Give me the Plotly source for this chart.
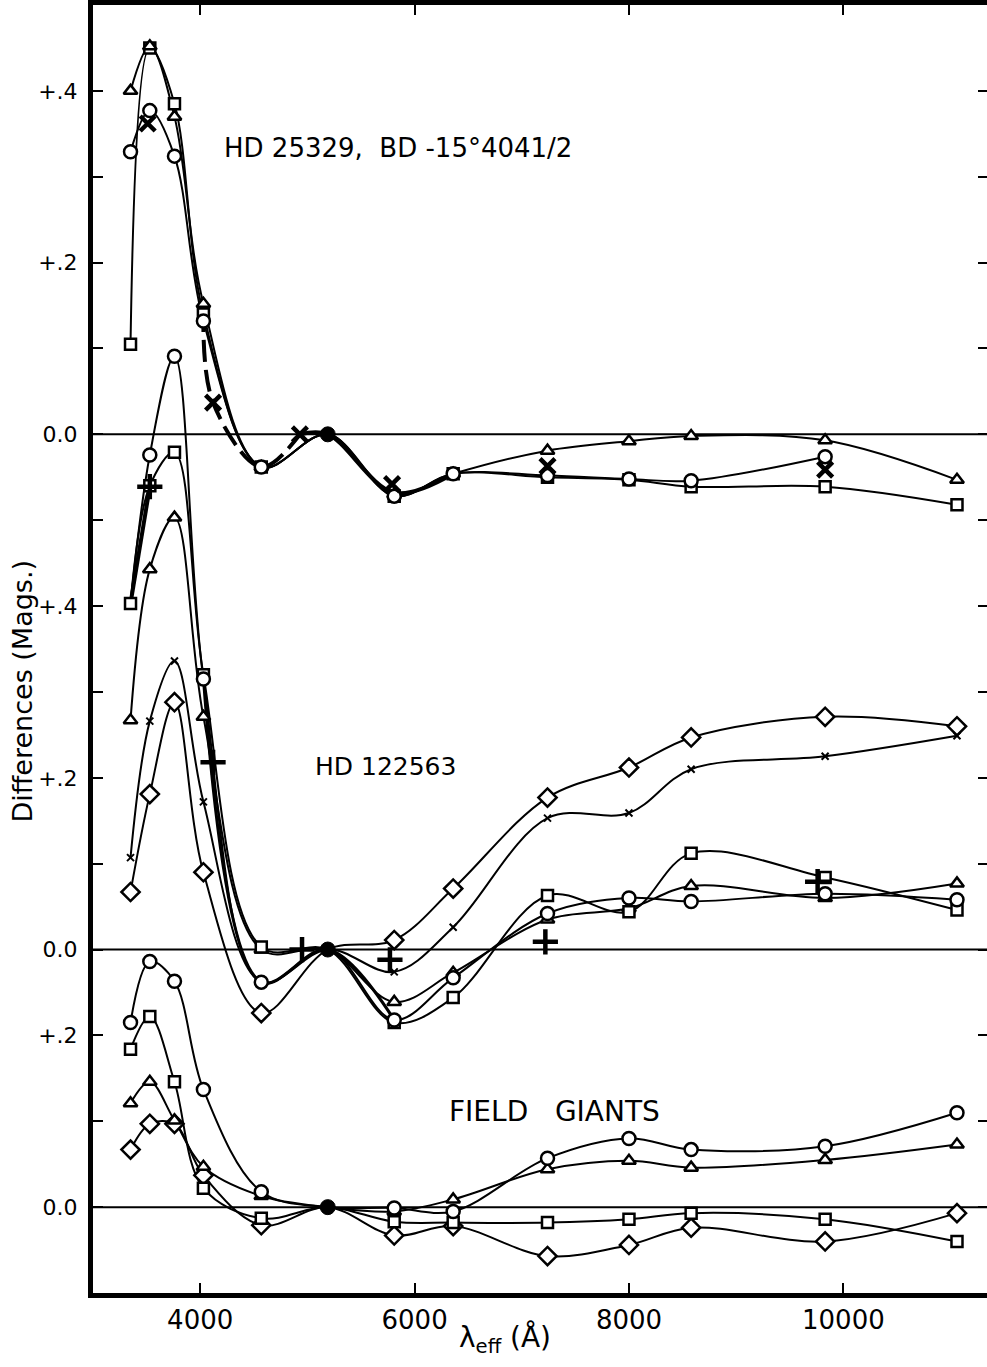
import plotly.graph_objects as go

# ---------------- data ----------------
# effective wavelengths of the 13-colour filters (Angstrom)
W = [3350, 3530, 3760, 4030, 4570, 5190, 5810, 6360, 7240, 8000, 8580, 9830, 11060]

# Top panel: HD 25329, BD -15 4041/2
top_tri = [0.400, 0.452, 0.370, 0.152, -0.038, 0.0, -0.070, -0.046, -0.019, -0.008, -0.002, -0.007, -0.053]
top_sq = [0.105, 0.450, 0.385, 0.140, -0.038, 0.0, -0.072, -0.046, -0.050, -0.053, -0.061, -0.061, -0.082]
top_circ = [0.329, 0.377, 0.324, 0.132, -0.038, 0.0, -0.072, -0.046, -0.048, -0.052, -0.054, -0.026]
top_X_w = [3510, 4120, 4930, 5790, 7240, 9830]
top_X = [0.362, 0.037, 0.0, -0.058, -0.037, -0.041]
heavy_top_w = [4030, 4120, 4570, 4930, 5190, 5810, 6360]
heavy_top = [0.145, 0.037, -0.038, 0.0, 0.0, -0.068, -0.046]

# Middle panel: HD 122563
mid_circ = [0.403, 0.576, 0.691, 0.315, -0.038, 0.0, -0.082, -0.033, 0.042, 0.060, 0.056, 0.065, 0.058]
mid_sq = [0.403, 0.540, 0.579, 0.320, 0.003, 0.0, -0.085, -0.056, 0.063, 0.044, 0.112, 0.084, 0.046]
mid_tri = [0.267, 0.443, 0.503, 0.271, 0.000, 0.0, -0.061, -0.027, 0.035, 0.048, 0.074, 0.060, 0.077]
mid_x = [0.107, 0.266, 0.336, 0.172, -0.038, 0.0, -0.026, 0.026, 0.153, 0.159, 0.210, 0.225, 0.249]
mid_dia = [0.067, 0.181, 0.288, 0.090, -0.074, 0.0, 0.011, 0.071, 0.177, 0.212, 0.247, 0.271, 0.260]
mid_plus_w = [3530, 4120, 4950, 5770, 7220, 9760]
mid_plus = [0.539, 0.218, 0.0, -0.012, 0.009, 0.079]
heavy_mid_w = [3350, 3530, 3760, 4030, 4570, 5190, 5810]
heavy_mid = [0.403, 0.539, 0.579, 0.318, -0.038, 0.0, -0.082]

# Bottom panel: field giants
bot_circ = [0.215, 0.286, 0.263, 0.137, 0.018, 0.0, -0.001, -0.005, 0.057, 0.080, 0.067, 0.071, 0.110]
bot_tri = [0.121, 0.146, 0.101, 0.047, 0.013, 0.0, -0.005, 0.009, 0.044, 0.054, 0.046, 0.055, 0.073]
bot_sq = [0.184, 0.222, 0.146, 0.022, -0.013, 0.0, -0.017, -0.018, -0.018, -0.014, -0.007, -0.014, -0.040]
bot_dia = [0.067, 0.097, 0.097, 0.037, -0.021, 0.0, -0.033, -0.022, -0.057, -0.044, -0.024, -0.040, -0.007]

ZERO_W = [5190]
ZERO_V = [0.0]

# panel offsets on the common axis
OFF_TOP, OFF_MID, OFF_BOT = 0.9, 0.3, 0.0

# y ticks (labelled) and unlabelled minor ticks
y_tickvals = [0.0, 0.2, 0.3, 0.5, 0.7, 0.9, 1.1, 1.3]
y_ticktext = ["0.0", "+.2", "0.0", "+.2", "+.4", "0.0", "+.2", "+.4"]
y_minorvals = [0.1, 0.4, 0.6, 0.8, 1.0, 1.2]
y_allvals = [0.0, 0.1, 0.2, 0.3, 0.4, 0.5, 0.6, 0.7, 0.8, 0.9, 1.0, 1.1, 1.2, 1.3]
x_tickvals = [4000, 6000, 8000, 10000]

FONT = "DejaVu Sans"
K = "black"
LW = 2.0
MLW = 2.5

line_traces = []
marker_traces = []


def sh(vals, off):
    return [v + off for v in vals]


def series(ws, vals, off, symbol, size=12, mlw=MLW, lw=LW, hide=()):
    ys = sh(vals, off)
    line_traces.append(go.Scatter(
        x=ws, y=ys, mode="lines", hoverinfo="skip",
        line=dict(color=K, width=lw, shape="spline", smoothing=1.0)))
    sizes = [0 if (w in ZERO_W or w in hide) else size for w in ws]
    marker_traces.append(go.Scatter(
        x=ws, y=ys, mode="markers",
        marker=dict(symbol=symbol, size=sizes, color="white", opacity=1,
                    line=dict(color=K, width=mlw))))


def heavy(ws, vals, off, dash="solid", width=4.0):
    line_traces.append(go.Scatter(
        x=ws, y=sh(vals, off), mode="lines", hoverinfo="skip",
        line=dict(color=K, width=width, shape="spline", smoothing=1.0, dash=dash)))


def points(ws, vals, off, symbol, size, mlw):
    marker_traces.append(go.Scatter(
        x=ws, y=sh(vals, off), mode="markers",
        marker=dict(symbol=symbol, size=size, color=K, opacity=1,
                    line=dict(color=K, width=mlw))))


# top panel
series(W, top_sq, OFF_TOP, "square", size=11)
series(W, top_tri, OFF_TOP, "triangle-up", size=12)
series(W[:len(top_circ)], top_circ, OFF_TOP, "circle", size=13)
heavy(heavy_top_w[:4], heavy_top[:4], OFF_TOP, dash="22px,8px")
heavy(heavy_top_w[3:], heavy_top[3:], OFF_TOP)
points(top_X_w, top_X, OFF_TOP, "x-thin", 15, 4.5)

# middle panel
series(W, mid_dia, OFF_MID, "diamond", size=14)
series(W, mid_x, OFF_MID, "x-thin", size=7, mlw=2)
series(W, mid_tri, OFF_MID, "triangle-up", size=12)
series(W, mid_sq, OFF_MID, "square", size=11)
series(W, mid_circ, OFF_MID, "circle", size=13, hide=(3350,))
heavy(heavy_mid_w[:2], heavy_mid[:2], OFF_MID)
heavy(heavy_mid_w[3:], heavy_mid[3:], OFF_MID, width=3.2)
points(mid_plus_w, mid_plus, OFF_MID, "cross-thin", 18, 4.5)

# bottom panel
series(W, bot_dia, OFF_BOT, "diamond", size=14)
series(W, bot_sq, OFF_BOT, "square", size=11)
series(W, bot_tri, OFF_BOT, "triangle-up", size=12)
series(W, bot_circ, OFF_BOT, "circle", size=13)

# common zero points (filled dots)
for off in (OFF_TOP, OFF_MID, OFF_BOT):
    points(ZERO_W, ZERO_V, off, "circle", 15, 1)

fig = go.Figure(line_traces + marker_traces)
# dummy trace for right-hand tick axis
fig.add_trace(go.Scatter(x=[], y=[], yaxis="y2", showlegend=False))

shapes = []
for off in (OFF_TOP, OFF_MID, OFF_BOT):
    shapes.append(dict(type="line", xref="paper", x0=0, x1=1, yref="y", y0=off, y1=off,
                       line=dict(color=K, width=2), layer="below"))

annotations = [
    dict(text="HD 25329,  BD -15°4041/2", x=0.144, y=0.889, xref="paper", yref="paper",
         xanchor="left", yanchor="middle", showarrow=False, font=dict(size=26, color=K, family=FONT)),
    dict(text="HD 122563", x=0.246, y=0.4084, xref="paper", yref="paper",
         xanchor="left", yanchor="middle", showarrow=False, font=dict(size=25, color=K, family=FONT)),
    dict(text="FIELD   GIANTS", x=0.396, y=0.1413, xref="paper", yref="paper",
         xanchor="left", yanchor="middle", showarrow=False, font=dict(size=28, color=K, family=FONT)),
    dict(text="Differences (Mags.)", x=-0.0794, y=0.467, xref="paper", yref="paper",
         xanchor="center", yanchor="middle", textangle=-90, showarrow=False,
         font=dict(size=27, color=K, family=FONT)),
    dict(text="λ<sub>eff</sub> (Å)", x=0.461, y=-0.036, xref="paper", yref="paper",
         xanchor="center", yanchor="middle", showarrow=False,
         font=dict(size=28, color=K, family=FONT)),
]

fig.update_layout(
    width=987, height=1367,
    margin=dict(l=93, r=0, t=5, b=74),
    paper_bgcolor="white", plot_bgcolor="white",
    showlegend=False,
    font=dict(family=FONT, color=K),
    xaxis=dict(range=[3000, 11340], tickvals=x_tickvals, ticktext=[str(v) for v in x_tickvals],
               ticks="inside", ticklen=10, tickwidth=2, tickcolor=K,
               showline=True, linewidth=5, linecolor=K, mirror="ticks",
               showgrid=False, zeroline=False, tickfont=dict(size=26, family=FONT, color=K)),
    yaxis=dict(range=[-0.1, 1.4], tickmode="array", tickvals=y_tickvals, ticktext=y_ticktext,
               ticks="inside", ticklen=10, tickwidth=2, tickcolor=K,
               minor=dict(tickmode="array", tickvals=y_minorvals, ticks="inside",
                          ticklen=10, tickwidth=2, tickcolor=K, showgrid=False),
               showline=True, linewidth=5, linecolor=K,
               showgrid=False, zeroline=False, ticklabelstandoff=6,
               tickfont=dict(size=22, family=FONT, color=K)),
    yaxis2=dict(range=[-0.1, 1.4], overlaying="y", side="right", tickmode="array",
                tickvals=y_allvals, showticklabels=False, ticks="inside", ticklen=9,
                tickwidth=2, tickcolor=K, showline=False, showgrid=False, zeroline=False),
    shapes=shapes,
    annotations=annotations,
)

fig.write_html("out.html")
